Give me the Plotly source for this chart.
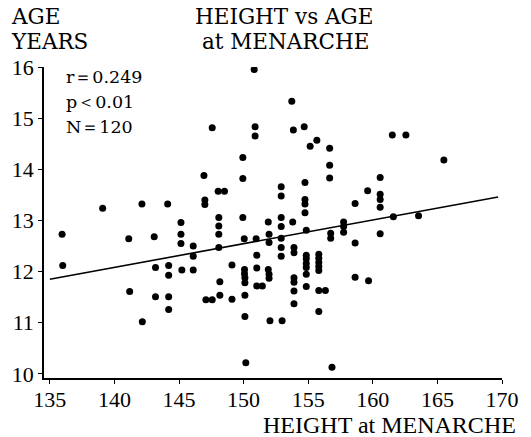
import plotly.graph_objects as go

# Height at menarche (cm) and age at menarche (years)
height = [
    135.95, 139.09, 141.11, 142.13, 143.08, 144.12, 145.15, 145.15, 145.15, 146.1,
    136.0, 143.18, 144.2, 144.2, 146.1, 145.22, 146.1, 141.18, 143.18, 144.2,
    144.2, 142.16, 146.93, 147.0, 147.0, 147.57, 148.03, 148.52, 148.08, 148.08,
    148.08, 148.08, 149.94, 149.94, 149.94, 150.05, 150.82, 150.89, 150.89, 150.97,
    151.91, 151.97, 151.97, 152.91, 152.91, 152.91, 152.91, 152.91, 152.91, 153.73,
    153.85, 153.8, 153.9, 154.69, 154.75, 154.75, 154.75, 154.75, 154.85, 155.15,
    155.67, 156.66, 156.66, 156.66, 156.74, 156.74, 157.74, 157.74, 157.74, 158.63,
    158.63, 152.91, 153.9, 154.85, 154.85, 154.85, 154.85, 154.85, 154.85, 155.82,
    155.82, 155.82, 155.82, 155.82, 155.82, 156.33, 155.82, 158.63, 156.84, 150.17,
    149.1, 148.16, 148.16, 147.08, 147.57, 149.1, 150.07, 150.07, 150.1, 150.1,
    150.1, 150.1, 151.02, 151.02, 151.02, 151.45, 151.91, 151.97, 151.97, 152.04,
    152.98, 153.9, 153.9, 153.9, 153.9, 161.51, 162.56, 165.5, 160.57, 159.6,
    160.57, 160.57, 160.57, 161.59, 163.54, 160.57, 159.67,
]
age = [
    12.73, 13.24, 12.64, 13.32, 12.68, 13.32, 12.96, 12.73, 12.55, 12.5,
    12.12, 12.08, 12.12, 11.93, 12.30, 12.03, 12.03, 11.61, 11.51, 11.51,
    11.26, 11.02, 13.88, 13.40, 13.31, 14.81, 13.57, 13.57, 13.06, 12.89,
    12.73, 12.47, 14.23, 13.82, 13.06, 12.64, 15.95, 14.83, 14.65, 12.64,
    12.97, 12.73, 12.57, 13.66, 13.48, 13.06, 12.88, 12.65, 12.47, 15.33,
    14.77, 12.97, 12.47, 14.83, 13.74, 13.41, 13.32, 13.15, 12.81, 14.45,
    14.57, 14.41, 14.08, 13.83, 12.75, 12.65, 12.97, 12.88, 12.77, 13.33,
    12.56, 12.30, 12.37, 12.32, 12.25, 12.16, 12.08, 11.95, 11.71, 12.34,
    12.26, 12.18, 12.10, 12.02, 11.63, 11.63, 11.22, 11.89, 10.13, 10.22,
    12.13, 11.80, 11.54, 11.45, 11.45, 11.46, 12.04, 11.96, 11.88, 11.78,
    11.54, 11.12, 12.32, 12.07, 11.72, 11.72, 12.04, 11.95, 11.87, 11.04,
    11.04, 11.88, 11.79, 11.62, 11.37, 14.67, 14.67, 14.18, 13.84, 13.58,
    13.51, 13.41, 13.26, 13.07, 13.09, 12.74, 11.82,
]

# Regression line end points
fit_x = [135.0, 169.7]
fit_y = [11.85, 13.46]

x_ticks = [135, 140, 145, 150, 155, 160, 165, 170]
y_ticks = [10, 11, 12, 13, 14, 15, 16]

stats_lines = ["r＝0.249", "p＜0.01", "N＝120"]

FONT = "Liberation Serif"
WIDE = "DejaVu Serif"
W, H = 531, 437
L, R, T, B = 43, 25, 67, 59
PW, PH = W - L - R, H - T - B


def px(x):
    return (x - L) / PW


def py(y):
    return (H - B - y) / PH


fig = go.Figure()
fig.add_trace(go.Scatter(
    x=fit_x, y=fit_y, mode="lines",
    line=dict(color="black", width=1.6), hoverinfo="skip", showlegend=False,
))
fig.add_trace(go.Scatter(
    x=height, y=age, mode="markers",
    marker=dict(color="black", size=7), showlegend=False,
))

annotations = []


def add_text(text, x, y, size, xanchor="left", family=FONT):
    annotations.append(dict(
        text=text, x=px(x), y=py(y), xref="paper", yref="paper",
        xanchor=xanchor, yanchor="middle", showarrow=False, borderpad=0,
        font=dict(family=family, size=size, color="black"),
    ))


add_text("AGE", 9, 16.5, 21.5, family=WIDE)
add_text("YEARS", 9, 41.5, 21.5, family=WIDE)
add_text("HEIGHT vs AGE", 285.5, 16.5, 21.5, "center", family=WIDE)
add_text("at MENARCHE", 287, 41.5, 21.5, "center", family=WIDE)
for i, s in enumerate(stats_lines):
    add_text(s, 64, 77 + 25 * i, 17.5, family=WIDE)
add_text("HEIGHT at MENARCHE", 521, 425, 24, "right")

fig.update_layout(
    width=W, height=H,
    margin=dict(l=L, r=R, t=T, b=B),
    paper_bgcolor="white", plot_bgcolor="white",
    annotations=annotations,
    xaxis=dict(
        range=[134.55, 170.0], tickvals=x_ticks, ticks="outside", ticklen=4,
        tickcolor="black", showline=True, linecolor="black", linewidth=1.5,
        showgrid=False, zeroline=False, ticklabelstandoff=-3,
        tickfont=dict(family=FONT, size=22, color="black"),
    ),
    yaxis=dict(
        range=[9.92, 16.0], tickvals=y_ticks, ticks="outside", ticklen=4,
        tickcolor="black", showline=True, linecolor="black", linewidth=1.5,
        showgrid=False, zeroline=False,
        tickfont=dict(family=FONT, size=22, color="black"),
    ),
)

fig.write_html(
    "out.html",
    config={"displayModeBar": False},
    post_script="document.body.style.margin='0';document.body.style.overflow='hidden';",
)
